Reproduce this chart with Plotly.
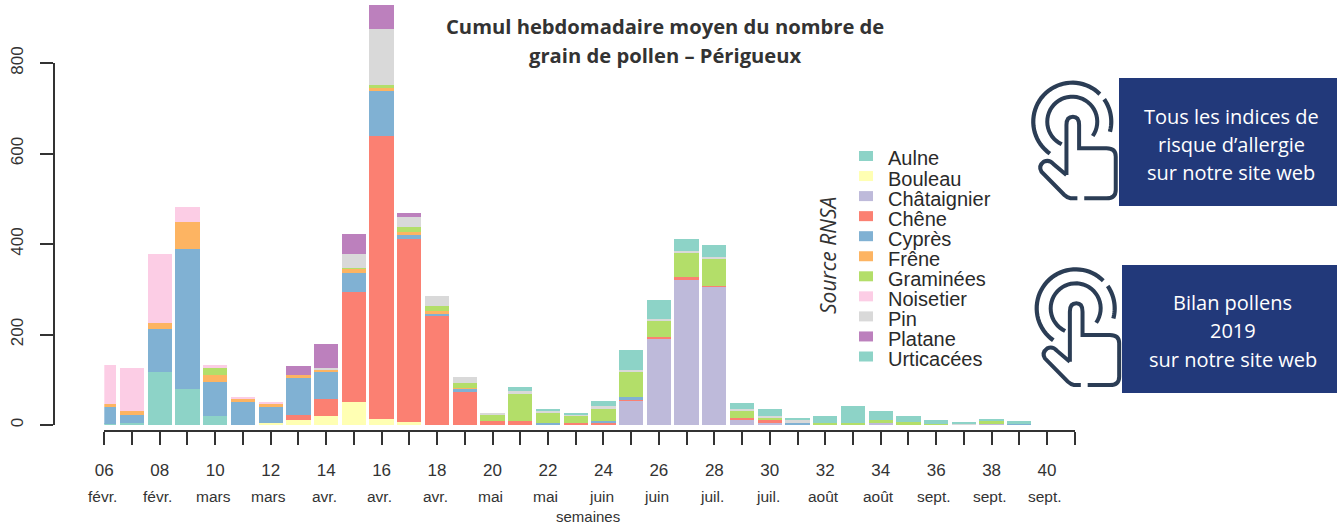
import numpy as np
import plotly.graph_objects as go

W, H = 1337, 526
weeks = list(range(6, 40))
tick_weeks = list(range(6, 42))
week_labels = ["06", "08", "10", "12", "14", "16", "18", "20", "22", "24", "26", "28", "30", "32", "34", "36", "38", "40"]
month_labels = ["févr.", "févr.", "mars", "mars", "avr.", "avr.", "avr.", "mai", "mai", "juin", "juin", "juil.", "juil.", "août", "août", "sept.", "sept.", "sept."]
species = ["Aulne", "Bouleau", "Châtaignier", "Chêne", "Cyprès", "Frêne", "Graminées", "Noisetier", "Pin", "Platane", "Urticacées"]
colors = ["#8DD3C7", "#FFFFB3", "#BEBADA", "#FB8072", "#80B1D3", "#FDB462", "#B3DE69", "#FCCDE5", "#D9D9D9", "#BC80BD", "#8DD3C7"]

aulne = [3,4,118,80,21,0,0,0,0,0, 0,0,0,0,0,0,0,0,0,0, 0,0,0,0,0,0,0,0,0,0, 0,0,0,0]
bouleau = [0,0,0,0,0,0,5,12,20,50, 13,6,1,0,0,0,0,0,0,0, 0,0,0,0,0,0,0,0,0,0, 0,0,0,0]
chataignier = [0,0,0,0,0,0,0,0,0,0, 0,0,0,0,0,0,0,0,1,54, 189,321,306,11,4,2,0,0,4,0, 0,0,2,0]
chene = [0,0,0,0,0,0,0,11,38,243, 625,405,242,73,9,9,0,4,3,3, 5,5,1,5,6,0,0,0,0,0, 0,0,0,0]
cypres = [36,19,95,309,74,50,34,81,59,44, 101,8,3,7,0,0,4,0,5,4, 0,0,0,0,0,3,0,0,0,0, 0,0,0,2]
frene = [8,9,12,60,16,8,8,7,6,9, 5,7,5,2,0,0,0,0,0,0, 0,0,0,0,0,0,0,0,0,0, 0,0,0,0]
graminees = [0,0,0,0,15,0,0,0,0,2, 8,11,12,11,15,60,23,16,26,57, 35,55,62,16,7,0,5,4,8,6, 3,0,8,0]
noisetier = [86,94,152,33,7,3,3,0,0,0, 0,0,0,0,0,0,0,0,0,0, 0,0,0,0,0,0,0,0,0,0, 0,0,0,0]
pin = [0,0,0,0,0,0,0,0,3,29, 124,23,22,14,3,7,4,4,7,4, 5,3,3,3,3,8,0,0,0,0, 0,3,0,0]
platane = [0,0,0,0,0,0,0,19,53,46, 53,9,0,0,0,0,0,0,0,0, 0,0,0,0,0,0,0,0,0,0, 0,0,0,0]
urticacees = [0,0,0,0,0,0,0,0,0,0, 0,0,0,0,0,8,4,3,11,44, 43,26,25,14,15,3,14,38,19,13, 9,4,2,6]
series = [aulne, bouleau, chataignier, chene, cypres, frene, graminees, noisetier, pin, platane, urticacees]

title_lines = ["Cumul hebdomadaire moyen du nombre de", "grain de pollen – Périgueux"]
box1_lines = ["Tous les indices de", "risque d’allergie", "sur notre site web"]
box2_lines = ["Bilan pollens", "2019", "sur notre site web"]

AXIS = "#333333"
NAVY = "#22397A"
ICON = "#2B3D55"
SANS = "Liberation Sans, Arial, sans-serif"
OPEN = "Open Sans, sans-serif"

px = lambda x: x / W
py = lambda y: 1 - y / H

fig = go.Figure()
# Invisible trace: it only brings up the visible left axis (0-800).
fig.add_scatter(x=[6], y=[0], mode="markers", marker=dict(opacity=0), yaxis="y", hoverinfo="skip", showlegend=False)
for name, vals, col in zip(species, series, colors):
    fig.add_bar(x=weeks, y=vals, name=name, width=0.875, marker=dict(color=col, line=dict(width=0)),
                yaxis="y2", showlegend=False)

annotations = []
shapes = []


def text(x, y, s, size, color=AXIS, font=SANS, anchor="center", angle=0, xref="paper", xshift=0):
    annotations.append(dict(x=x if xref == "x" else px(x), y=py(y), xref=xref, yref="paper", text=s, showarrow=False,
                            font=dict(size=size, color=color, family=font), xanchor=anchor, yanchor="middle",
                            textangle=angle, xshift=xshift))


for wk_lab, mon in zip(week_labels, month_labels):
    text(int(wk_lab), 496, mon, 15.5, xref="x", xshift=-2)

for i, line in enumerate(title_lines):
    text(665, 26 + 29 * i, f"<b>{line}</b>", 20.2, color="#333333", font=OPEN)
text(588, 516.5, "semaines", 15)
text(828, 256, "<i>Source RNSA</i>", 21, color="#333333", font=OPEN, angle=-90)

# legend
for i, (name, col) in enumerate(zip(species, colors)):
    yc = 156 + 20.05 * i
    shapes.append(dict(type="rect", xref="paper", yref="paper", x0=px(859), x1=px(873), y0=py(yc - 5), y1=py(yc + 5),
                       fillcolor=col, line=dict(width=0)))
    text(886, yc + 2.5, name, 20, anchor="left", color="#2a2a2a")

# navy boxes
for (x0, y0, y1, lines, ys) in [(1119, 78, 206, box1_lines, [116, 144, 172]), (1122, 265, 393, box2_lines, [302, 330, 359])]:
    shapes.append(dict(type="rect", xref="paper", yref="paper", x0=px(x0), x1=px(W), y0=py(y0), y1=py(y1),
                       fillcolor=NAVY, line=dict(width=0)))
    for line, y in zip(lines, ys):
        text((x0 + W) / 2 + 3, y, line, 20, color="#FFFFFF", font=OPEN)


# pointer icons (decoration)
def icon(dx, dy):
    P = lambda zx, zy: (800 + (zx + dx) / 2.92, 60 + (zy + dy) / 3)
    fmt = lambda p: f"{px(p[0]):.5f},{py(p[1]):.5f}"
    cx, cy = P(795, 185)

    def arc(r, a0, a1):
        t = np.radians(np.linspace(a0, a1, 40))
        return "M" + "L".join(fmt((cx + r * np.cos(a), cy + r * np.sin(a))) for a in t)

    hand = (f"M{fmt(P(778, 345))}L{fmt(P(778, 195))}Q{fmt(P(778, 170))} {fmt(P(797, 170))}"
            f"Q{fmt(P(815, 170))} {fmt(P(815, 195))}L{fmt(P(815, 265))}L{fmt(P(895, 265))}"
            f"Q{fmt(P(922, 265))} {fmt(P(922, 290))}L{fmt(P(922, 390))}Q{fmt(P(922, 415))} {fmt(P(895, 415))}"
            f"L{fmt(P(830, 415))}M{fmt(P(810, 415))}L{fmt(P(790, 415))}Q{fmt(P(780, 413))} {fmt(P(772, 405))}"
            f"L{fmt(P(705, 335))}Q{fmt(P(695, 318))} {fmt(P(712, 305))}Q{fmt(P(728, 298))} {fmt(P(740, 312))}"
            f"L{fmt(P(778, 345))}")
    for path, w in [(arc(39, 125, 315), 4.2), (arc(39, 325, 375), 4.2), (arc(25, 115, 395), 4.0), (hand, 4.0)]:
        shapes.append(dict(type="path", path=path, xref="paper", yref="paper",
                           line=dict(color=ICON, width=w), layer="above"))


icon(0, 0)
icon(10, 560)

fig.update_layout(
    width=W, height=H, margin=dict(l=0, r=0, t=0, b=0, autoexpand=False), paper_bgcolor="white", plot_bgcolor="rgba(0,0,0,0)",
    barmode="stack", showlegend=False, annotations=annotations, shapes=shapes,
    xaxis=dict(domain=[px(104.3), px(1074.8)], range=[6, 41], anchor="free", position=py(431), showgrid=False,
               zeroline=False, showline=True, linecolor=AXIS, linewidth=2, ticks="outside", ticklen=13, tickwidth=2,
               tickcolor=AXIS, tickmode="array", tickvals=tick_weeks,
               ticktext=[f"{t:02d}" if t % 2 == 0 and t <= 40 else "" for t in tick_weeks],
               tickfont=dict(size=17, family=SANS, color=AXIS), tickangle=0, ticklabelstandoff=11),
    yaxis=dict(domain=[py(425), py(63)], range=[0, 800], anchor="free", position=px(53.6), showgrid=False,
               zeroline=False, showline=True, linecolor=AXIS, linewidth=2, ticks="outside", ticklen=13, tickwidth=2,
               tickcolor=AXIS, tickmode="array", tickvals=[0, 200, 400, 600, 800], tickangle=-90,
               tickfont=dict(size=17, family=SANS, color=AXIS), ticklabelstandoff=10),
    yaxis2=dict(domain=[py(425), 1], range=[0, 425 / 0.4525], anchor="x", visible=False, showgrid=False, zeroline=False),
)

fig.write_html("out.html", config=dict(displayModeBar=False),
               post_script="document.body.style.margin='0';document.body.style.overflow='hidden';")
